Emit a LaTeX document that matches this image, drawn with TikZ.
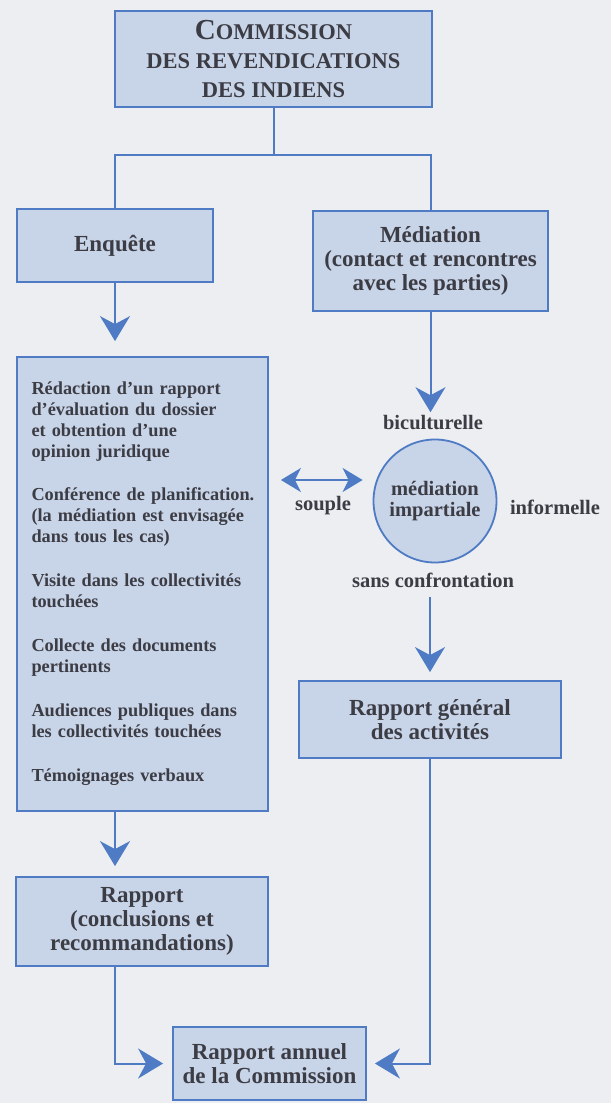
\documentclass[tikz,border=0pt]{standalone}
\usepackage{fontspec}
\setmainfont{Liberation Serif}
\usepackage{xcolor}
\usepackage{tikz}
\usetikzlibrary{positioning, shapes.geometric}
\usetikzlibrary{arrows.meta}
\definecolor{bleu}{HTML}{4E7BC4}
\definecolor{fond}{HTML}{ECEEF2}
\definecolor{boite}{HTML}{C8D4E8}
\definecolor{encre}{HTML}{3C3C44}
\tikzstyle{process} = [rectangle, draw=bleu, line width=1.8pt, fill=boite, text=encre, align=center, font=\bfseries\fontsize{23}{24}\selectfont]
\tikzstyle{bubble} = [circle, draw=bleu, line width=1.8pt, fill=boite, text=encre, align=center, minimum size=123pt, inner sep=0pt, font=\bfseries\fontsize{20.5}{21}\selectfont]
\tikzstyle{tag} = [text=encre, font=\bfseries\fontsize{20.5}{21}\selectfont]
\tikzstyle{wire} = [draw=bleu, line width=2pt]
\tikzstyle{arrow} = [wire, -{Stealth[length=25pt, width=30pt, inset=8pt]}]
\tikzstyle{twoway} = [wire, {Stealth[length=20pt, width=24pt, inset=6pt]}-{Stealth[length=20pt, width=24pt, inset=6pt]}]

\begin{document}
\begin{tikzpicture}[x=1pt, y=-1pt]
		\fill [fond] (0,0) rectangle (611,1103);
		\useasboundingbox (0,0) rectangle (611,1103);
		\node (top) [process, minimum width=317pt, minimum height=96pt, font=\bfseries\fontsize{22.5}{29}\selectfont] at (273.5,59) {{\fontsize{29}{29}\selectfont C}OMMISSION\\DES REVENDICATIONS\\DES INDIENS};
		\node (enq) [process, minimum width=196pt, minimum height=73pt] at (115,245.5) {Enquête};
		\node (med) [process, minimum width=235pt, minimum height=100pt] at (430.5,261) {Médiation\\(contact et rencontres\\avec les parties)};
		\node (big) [process, minimum width=251pt, minimum height=454pt, text width=222pt, inner xsep=14.5pt, align=left, font=\bfseries\fontsize{18.3}{21}\selectfont] at (142.5,584) {Rédaction d'un rapport\\d'évaluation du dossier\\et obtention d'une\\opinion juridique\\[22pt]
			\mbox{Conférence de planification.}\\(la médiation est envisagée\\dans tous les cas)\\[23pt]
			Visite dans les collectivités\\touchées\\[23pt]
			Collecte des documents\\pertinents\\[23pt]
			Audiences publiques dans\\les collectivités touchées\\[23pt]
			Témoignages verbaux};
		\node (bicult) [tag] at (433,423) {biculturelle};
		\node (circ) [bubble] at (435,501) {médiation\\impartiale};
		\node (souple) [tag] at (323,506) {souple};
		\node (informel) [tag] at (555,507) {informelle};
		\node (sans) [tag] at (433,580) {sans confrontation};
		\node (gen) [process, minimum width=262pt, minimum height=77pt] at (430,719.5) {Rapport général\\des activités};
		\node (rap) [process, minimum width=252pt, minimum height=89pt] at (142,921.5) {Rapport\\(conclusions et\\recommandations)};
		\node (annuel) [process, minimum width=193pt, minimum height=73pt] at (269.5,1063.5) {Rapport annuel\\de la Commission};
		\coordinate (fork) at (273.5,155);
		\coordinate (dbl) at (0,480);
		\draw [wire](top) -- (fork);
		\draw [wire](enq.north) |- (fork) -| (med.north);
		\draw [arrow, shorten >=15pt](enq.south) -- (enq.south |- big.north);
		\draw [arrow](med.south) -- (med.south |- bicult.north);
		\draw [twoway, shorten <=12pt, shorten >=10pt](big.east |- dbl) -- (circ.west |- dbl);
		\draw [arrow, shorten <=6pt, shorten >=8pt](gen.north |- sans.south) -- (gen.north);
		\draw [arrow, shorten >=10pt](enq.south |- big.south) -- (enq.south |- rap.north);
		\draw [arrow, shorten >=9pt](enq.south |- rap.south) |- (annuel.west);
		\draw [arrow, shorten >=8pt](gen.south) |- (annuel.east);
	\end{tikzpicture}
\end{document}
